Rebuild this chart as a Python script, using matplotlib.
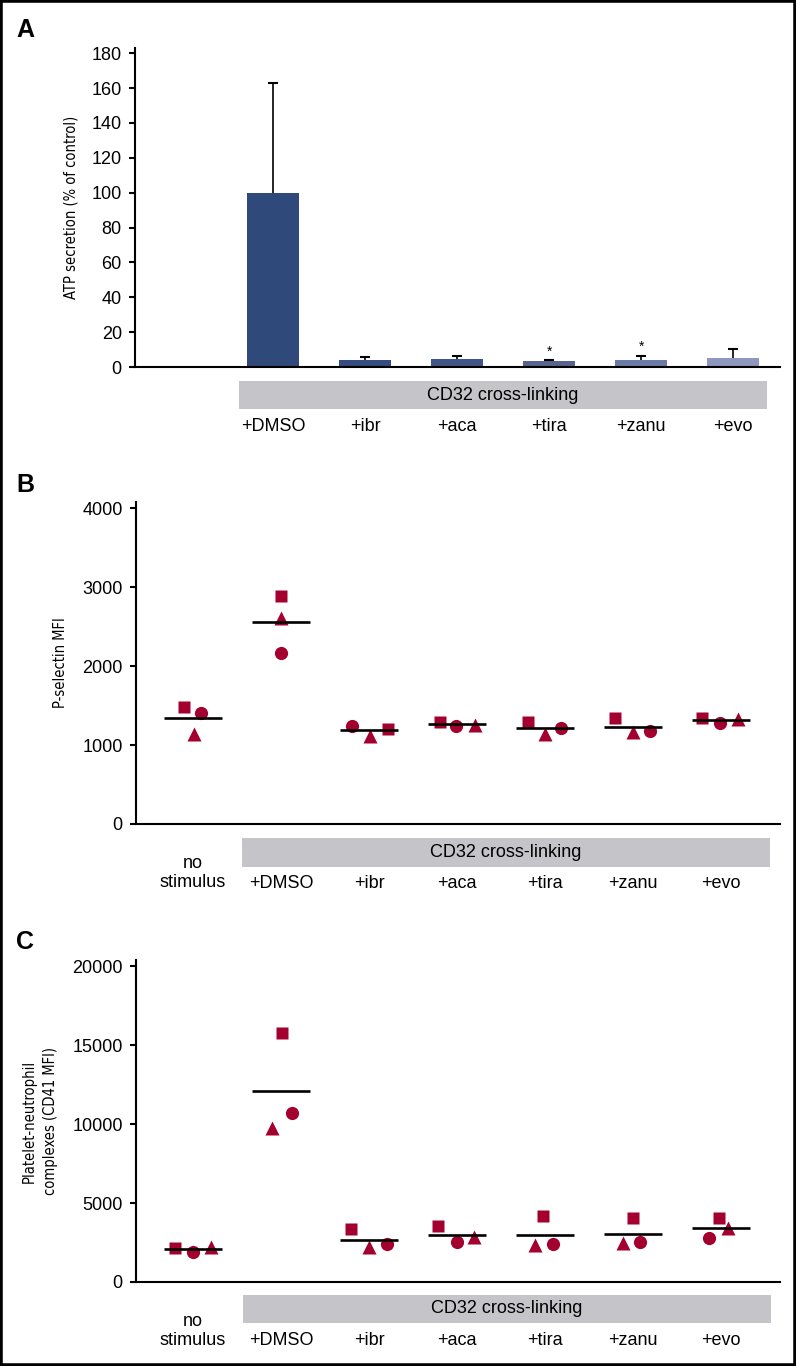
import matplotlib
matplotlib.use("Agg")
import matplotlib.pyplot as plt
import matplotlib.transforms as mtransforms
from matplotlib import font_manager
from matplotlib.patches import Rectangle
import numpy as np

# ---- data ----
labels = ["no\nstimulus", "+DMSO", "+ibr", "+aca", "+tira", "+zanu", "+evo"]

# panel A: ATP secretion (% of control), no bar for "no stimulus"
atp_mean = [np.nan, 100.0, 4.3, 4.6, 3.4, 4.2, 5.0]
atp_err = [np.nan, 63.0, 1.6, 1.7, 0.4, 2.3, 5.3]
atp_star = [False, False, False, False, True, True, False]
bar_colors = ["#2f4a7a", "#2f4a7a", "#344c7f", "#3f5687", "#56648f", "#6c7aa6", "#8e97bd"]

# panel B: P-selectin MFI, donors = square / circle / triangle
psel_square = [1481, 2886, 1203, 1291, 1291, 1342, 1342]
psel_circle = [1405, 2165, 1241, 1241, 1215, 1177, 1279]
psel_triangle = [1139, 2608, 1114, 1253, 1139, 1165, 1329]

# panel C: platelet-neutrophil complexes (CD41 MFI)
pnc_square = [2152, 15760, 3355, 3545, 4178, 4051, 4051]
pnc_circle = [1899, 10700, 2405, 2532, 2405, 2532, 2785]
pnc_triangle = [2215, 9750, 2215, 2848, 2342, 2469, 3418]

# horizontal jitter of the symbols inside each group (category units)
jit_b = {"s": [-0.10, 0.0, 0.21, -0.19, -0.19, -0.20, -0.22],
         "o": [0.09, 0.0, -0.19, -0.01, 0.18, 0.19, -0.01],
         "^": [0.01, 0.0, 0.01, 0.20, 0.0, 0.0, 0.19]}
jit_c = {"s": [-0.20, 0.01, -0.20, -0.22, -0.02, 0.0, -0.02],
         "o": [0.0, 0.125, 0.20, 0.0, 0.09, 0.08, -0.14],
         "^": [0.20, -0.10, 0.0, 0.19, -0.11, -0.11, 0.08]}

RED = "#a3002f"
BAND = "#c5c4c9"
plt.rcParams["font.family"] = ["Liberation Sans", "DejaVu Sans"]

# y labels use a regular-weight condensed face when one is installed
SKIP = ("bold", "italic", "oblique", "light", "thin", "semi", "medium", "extra", "black", "heavy")
cands = []
for f in font_manager.fontManager.ttflist:
    low = (f.name + " " + f.fname).lower()
    if ("narrow" in low or "condensed" in low) and not any(k in low for k in SKIP):
        w = f.weight if isinstance(f.weight, int) else 400
        cands.append((abs(w - 400), f.fname))
cands.sort()
if cands:
    ylab_prop = font_manager.FontProperties(fname=cands[0][1], size=12)
else:
    ylab_prop = font_manager.FontProperties(family="DejaVu Sans", size=10)

W, H = 796, 1366
fig = plt.figure(figsize=(W / 100, H / 100), dpi=100)


def add_axes_px(left, right, top, bottom):
    return fig.add_axes([left / W, 1 - bottom / H, (right - left) / W, (bottom - top) / H])


def style_axes(ax, ylim, yticks):
    for s in ["top", "right"]:
        ax.spines[s].set_visible(False)
    for s in ["left", "bottom"]:
        ax.spines[s].set_linewidth(1.5)
    ax.set_ylim(*ylim)
    ax.set_yticks(yticks)
    ax.tick_params(axis="y", length=4.5, width=1.5, labelsize=13, pad=5)
    ax.set_xticks([])


def set_ylabel(ax, text, xfrac, **kw):
    ax.set_ylabel(text, fontproperties=ylab_prop.copy(), **kw)
    ax.yaxis.label.set_va("center")
    ax.yaxis.set_label_coords(xfrac, 0.5)


def add_band(ax, x0, x1, y0, y1, label_y, two_line_y):
    tr = mtransforms.blended_transform_factory(ax.transData, ax.transAxes)
    ax.add_patch(Rectangle((x0, y1), x1 - x0, y0 - y1, transform=tr,
                           facecolor=BAND, edgecolor="none", clip_on=False))
    ax.text((x0 + x1) / 2, (y0 + y1) / 2, "CD32 cross-linking", transform=tr,
            ha="center", va="center", fontsize=13)
    for i, lab in enumerate(labels):
        if i == 0:
            if two_line_y is None:
                continue
            ax.text(i, two_line_y, lab, transform=tr, ha="center", va="center",
                    fontsize=13, linespacing=1.15)
        else:
            ax.text(i, label_y, lab, transform=tr, ha="center", va="center", fontsize=13)


def dot_panel(ax, sq, ci, tr_, jit):
    x = np.arange(len(labels))
    vals = np.array([sq, ci, tr_], dtype=float)
    means = vals.mean(axis=0)
    for xi, m in zip(x, means):
        ax.plot([xi - 0.33, xi + 0.33], [m, m], color="black", lw=1.9, zorder=3,
                solid_capstyle="butt")
    ax.plot(x + np.array(jit["s"]), sq, "s", color=RED, ms=8.5, mec="none", zorder=2)
    ax.plot(x + np.array(jit["o"]), ci, "o", color=RED, ms=9.5, mec="none", zorder=2)
    ax.plot(x + np.array(jit["^"]), tr_, "^", color=RED, ms=10, mec="none", zorder=2)


# ---- panel A ----
axA = add_axes_px(135, 780, 48, 367)
style_axes(axA, (0, 183), range(0, 181, 20))
xa = np.arange(len(labels))
axA.bar(xa, atp_mean, width=0.57, color=bar_colors, zorder=2)
top = np.array(atp_mean) + np.array(atp_err)
axA.vlines(xa, atp_mean, top, color="black", lw=1.2, zorder=1)
axA.plot(xa, top, "_", color="black", ms=7, mew=1.5, zorder=3)
for xi, t, s in zip(xa, top, atp_star):
    if s:
        axA.text(xi, t + 1.0, "*", ha="center", va="bottom", fontsize=10)
axA.set_xlim(-0.5, 6.51)
set_ylabel(axA, "ATP secretion (% of control)", -0.099)
add_band(axA, 0.63, 6.37, -0.044, -0.132, -0.185, None)

# ---- panel B ----
axB = add_axes_px(136, 780, 502, 824)
style_axes(axB, (0, 4076), range(0, 4001, 1000))
dot_panel(axB, psel_square, psel_circle, psel_triangle, jit_b)
axB.set_xlim(-0.648, 6.67)
set_ylabel(axB, "P-selectin MFI", -0.118)
add_band(axB, 0.557, 6.557, -0.0435, -0.1335, -0.186, -0.153)

# ---- panel C ----
axC = add_axes_px(136, 780, 960, 1282)
style_axes(axC, (0, 20380), range(0, 20001, 5000))
dot_panel(axC, pnc_square, pnc_circle, pnc_triangle, jit_c)
axC.set_xlim(-0.648, 6.67)
set_ylabel(axC, "Platelet-neutrophil\ncomplexes (CD41 MFI)", -0.149, linespacing=1.5)
add_band(axC, 0.568, 6.568, -0.040, -0.127, -0.183, -0.151)

# size the y labels so the ATP label is as long as in the original (~183 px)
fig.canvas.draw()
length = axA.yaxis.label.get_window_extent().height
scale = 183.0 / length
for ax in (axA, axB, axC):
    ax.yaxis.label.set_fontsize(ylab_prop.get_size() * scale)

# panel letters
for txt, ypx in [("A", 30), ("B", 485), ("C", 942)]:
    fig.text(25 / W, 1 - ypx / H, txt, ha="center", va="center", fontsize=18,
             fontweight="bold")

# outer frame
fig.patches.append(Rectangle((0, 0), 1, 1, transform=fig.transFigure, fill=False,
                             edgecolor="black", lw=4))

fig.savefig("out.png", dpi=100)
